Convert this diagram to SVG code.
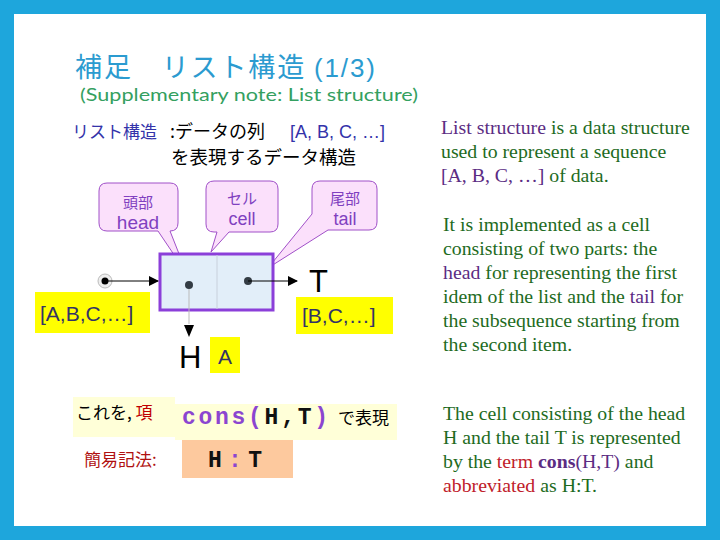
<svg xmlns="http://www.w3.org/2000/svg" width="720" height="540" viewBox="0 0 720 540">
<style>
.jp{font-family:"Noto Sans CJK JP","Noto Sans",sans-serif}
.sans{font-family:"Liberation Sans","Noto Sans CJK JP",sans-serif}
.serif{font-family:"Liberation Serif",serif;font-size:19.8px;fill:#1e6b1e}
.pu{fill:#5b2c83}
.rd{fill:#c0202a}
.mono{font-family:"Liberation Mono",monospace;font-weight:bold}
.call{fill:#fbe0fb;stroke:#a050c8;stroke-width:1}
.ct{fill:#8040c0;text-anchor:middle}
.yel{fill:#ffff00}
.lbl{font-family:"Liberation Sans",sans-serif;font-size:21px;fill:#333366}
</style>
<defs>
<marker id="ah" markerWidth="10" markerHeight="10" refX="9" refY="5" orient="auto" markerUnits="userSpaceOnUse">
<path d="M0,0 L10,5 L0,10 Z" fill="#000"/>
</marker>
</defs>
<rect x="0" y="0" width="720" height="540" fill="#1ea6dc"/>
<rect x="14" y="14" width="692" height="512" fill="#ffffff"/>

<g id="title">
<text class="jp" x="75" y="77" font-size="27" fill="#2b9bd0" textLength="300" lengthAdjust="spacing">補足　リスト構造 <tspan font-family="Liberation Sans,sans-serif" font-size="26">(1/3)</tspan></text>
<text x="80" y="101" font-family="Lato,'Noto Sans',sans-serif" font-size="18" fill="#34a060" textLength="338" lengthAdjust="spacingAndGlyphs">(Supplementary note: List structure)</text>
</g>

<g id="definition" class="jp">
<text x="72" y="138" font-size="17" fill="#3333aa">リスト構造</text>
<text x="170" y="138" font-size="18" fill="#000">:データの列</text>
<text x="290" y="138" font-family="Liberation Sans,sans-serif" font-size="18" fill="#3333aa">[A, B, C, …]</text>
<text x="171" y="164" font-size="18.5" fill="#000">を表現するデータ構造</text>
</g>

<g id="callout-head">
<path class="call" d="M107,183 H170 Q178,183 178,191 V223 Q178,231 170,231 L187,274 L158,231 H107 Q99,231 99,223 V191 Q99,183 107,183 Z"/>
<text class="jp ct" x="138" y="208" font-size="15">頭部</text>
<text class="sans ct" x="138" y="229" font-size="19">head</text>
</g>
<g id="callout-cell">
<path class="call" d="M214,181 H270 Q278,181 278,189 V224 Q278,232 270,232 H229 L211,252 L217,232 H214 Q206,232 206,224 V189 Q206,181 214,181 Z"/>
<text class="jp ct" x="242" y="204" font-size="15">セル</text>
<text class="sans ct" x="242" y="225" font-size="18">cell</text>
</g>
<g id="callout-tail">
<path class="call" d="M320,181 H369 Q377,181 377,189 V222 Q377,230 369,230 H328 L268,268 L312,214 V189 Q312,181 320,181 Z"/>
<text class="jp ct" x="345" y="204" font-size="15">尾部</text>
<text class="sans ct" x="345" y="225" font-size="18">tail</text>
</g>

<g id="cell">
<rect x="160" y="254" width="113" height="56" fill="#e2eef9" stroke="#8b3fd9" stroke-width="3"/>
<line x1="217" y1="255" x2="217" y2="309" stroke="#c8d0dc" stroke-width="1"/>
<circle cx="189" cy="285" r="4" fill="#333c44"/>
<circle cx="248" cy="281" r="4" fill="#333c44"/>
</g>

<g id="input">
<circle cx="105" cy="281" r="7" fill="#eeeeee" stroke="#bbbbbb" stroke-width="1"/>
<circle cx="105" cy="281" r="3.5" fill="#000"/>
</g>

<g id="connectors">
<line x1="108" y1="281" x2="158" y2="281" stroke="#000" stroke-width="1" marker-end="url(#ah)"/>
<line x1="248" y1="281" x2="297" y2="281" stroke="#000" stroke-width="1" marker-end="url(#ah)"/>
<line x1="189" y1="289" x2="189" y2="324" stroke="#bbbbbb" stroke-width="1"/>
<path d="M184,325 L194,325 L189,337 Z" fill="#000"/>
</g>

<g id="label-list">
<rect class="yel" x="35" y="292" width="115" height="41"/>
<text class="lbl" x="40" y="321">[A,B,C,…]</text>
</g>
<g id="label-T">
<text class="sans" x="309" y="292" font-size="31" fill="#000">T</text>
</g>
<g id="label-tail">
<rect class="yel" x="296" y="297" width="97" height="37"/>
<text class="lbl" x="302" y="323">[B,C,…]</text>
</g>
<g id="label-H">
<text class="sans" x="179" y="368" font-size="31" fill="#000">H</text>
</g>
<g id="label-A">
<rect class="yel" x="210" y="337" width="30" height="36"/>
<text class="lbl" x="225" y="364" text-anchor="middle" font-size="19">A</text>
</g>

<g id="cons-line">
<rect x="73" y="397" width="102" height="40" fill="#ffffd8"/>
<rect x="175" y="404" width="222" height="36" fill="#ffffd8"/>
<text class="jp" x="76" y="419" font-size="17" fill="#000">これを, <tspan fill="#c00000">項</tspan></text>
<text class="mono" x="182" y="424" font-size="23" textLength="146" lengthAdjust="spacing"><tspan fill="#8b45d0">cons(</tspan><tspan fill="#111">H,T</tspan><tspan fill="#8b45d0">)</tspan></text>
<text class="jp" x="338" y="424" font-size="17" fill="#000">で表現</text>
</g>

<g id="abbrev">
<text class="jp" x="84" y="466" font-size="17" fill="#b01010">簡易記法:</text>
<rect x="182" y="440" width="111" height="38" fill="#fdc99e"/>
<text class="mono" x="208" y="467" font-size="23" textLength="54" lengthAdjust="spacing"><tspan fill="#111">H</tspan><tspan fill="#8b45d0">:</tspan><tspan fill="#111">T</tspan></text>
</g>

<g id="explanation" class="serif">
<text x="441" y="134"><tspan class="pu">List structure</tspan> is a data structure</text>
<text x="441" y="158">used to represent a sequence</text>
<text x="441" y="182"><tspan class="pu">[A, B, C, …]</tspan> of data.</text>
<text x="443" y="231">It is implemented as a cell</text>
<text x="443" y="255">consisting of two parts: the</text>
<text x="443" y="279"><tspan class="pu">head</tspan> for representing the first</text>
<text x="443" y="303">idem of the list and the <tspan class="pu">tail</tspan> for</text>
<text x="443" y="327">the subsequence starting from</text>
<text x="443" y="351">the second item.</text>
<text x="443" y="420">The cell consisting of the head</text>
<text x="443" y="444">H and the tail T is represented</text>
<text x="443" y="468">by the <tspan class="rd">term</tspan> <tspan class="pu" font-weight="bold">cons</tspan><tspan class="pu">(H,T)</tspan> and</text>
<text x="443" y="492"><tspan class="rd">abbreviated</tspan> as H:T.</text>
</g>
</svg>
